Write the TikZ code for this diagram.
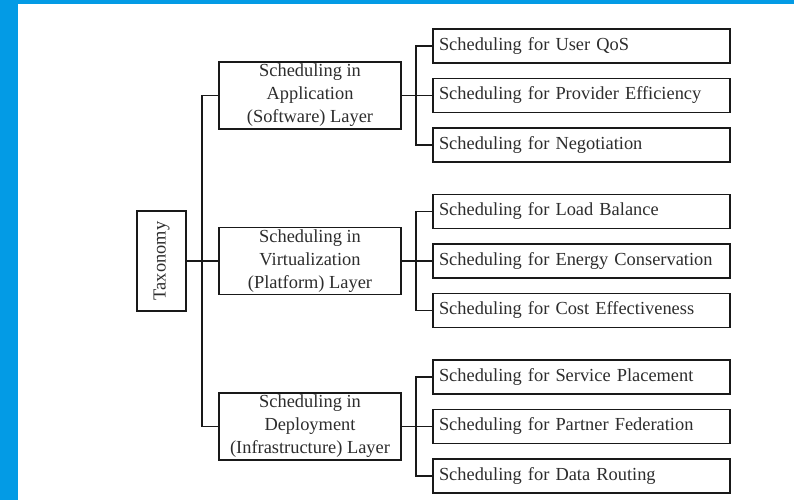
\documentclass[tikz,border=0pt]{standalone}
\usepackage{fontspec}
\setmainfont{Liberation Serif}
\definecolor{frameblue}{RGB}{3,155,229}
\definecolor{txt}{RGB}{45,45,45}
\begin{document}
\begin{tikzpicture}[x=1bp,y=-1bp,
  box/.style={draw=black!90,line width=1.6bp,inner sep=0pt,text=txt,
    font=\fontsize{18.4bp}{23bp}\selectfont},
  leaf/.style={box,minimum width=297bp,minimum height=34bp,
    text width=285bp,align=left},
  layer/.style={box,minimum width=182bp,minimum height=67bp,align=center},
  link/.style={draw=black!90,line width=1.6bp}]
\useasboundingbox (0,0) rectangle (794,500);
\fill[white] (0,0) rectangle (794,500);
\fill[frameblue] (0,0) rectangle (794,4.5);
\fill[frameblue] (0,0) rectangle (18,500);

\node[box,minimum width=49bp,minimum height=100bp] (tax) at (161.5,261)
  {\rotatebox{90}{Taxonomy}};

\node[layer] (app) at (310,95.5) {Scheduling in\\Application\\(Software) Layer};
\node[layer] (virt) at (310,261) {Scheduling in\\Virtualization\\(Platform) Layer};
\node[layer] (dep) at (310,426.5) {Scheduling in\\Deployment\\(Infrastructure) Layer};

\node[leaf] (a1) at (581.5,46) {Scheduling for User QoS};
\node[leaf] (a2) at (581.5,95.5) {Scheduling for Provider Efficiency};
\node[leaf] (a3) at (581.5,145) {Scheduling for Negotiation};

\node[leaf] (v1) at (581.5,211.5) {Scheduling for Load Balance};
\node[leaf] (v2) at (581.5,261) {Scheduling for Energy Conservation};
\node[leaf] (v3) at (581.5,310.5) {Scheduling for Cost Effectiveness};

\node[leaf] (d1) at (581.5,377) {Scheduling for Service Placement};
\node[leaf] (d2) at (581.5,426.5) {Scheduling for Partner Federation};
\node[leaf] (d3) at (581.5,476) {Scheduling for Data Routing};

\path[link] (tax.east) -- (virt.west);
\path[link] (app.west) -- ++(-16,0) |- (dep.west);

\path[link] (app.east) -- (a2.west);
\path[link] (a1.west) -- ++(-16,0) |- (a3.west);
\path[link] (virt.east) -- (v2.west);
\path[link] (v1.west) -- ++(-16,0) |- (v3.west);
\path[link] (dep.east) -- (d2.west);
\path[link] (d1.west) -- ++(-16,0) |- (d3.west);
\end{tikzpicture}
\end{document}
